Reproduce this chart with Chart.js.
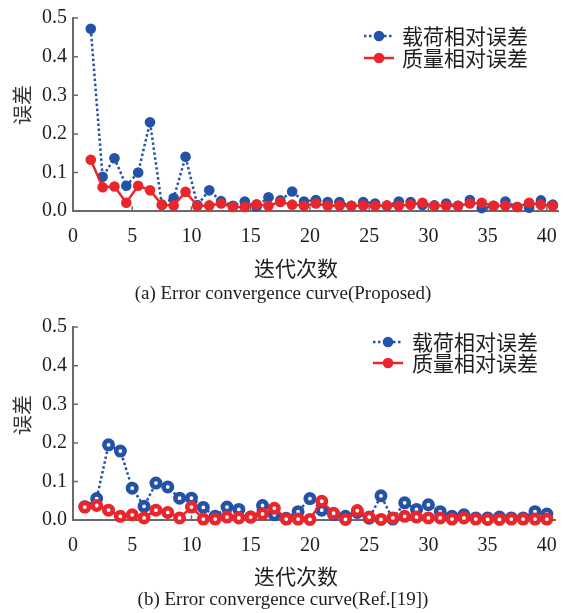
<!DOCTYPE html>
<html><head><meta charset="utf-8">
<script src="https://cdn.jsdelivr.net/npm/chart.js@4.4.1/dist/chart.umd.min.js"></script>
<style>
html,body{margin:0;padding:0;background:#fff;}
canvas{display:block;}
</style></head><body>
<canvas id="c1" width="571" height="307"></canvas>
<canvas id="c2" width="571" height="306"></canvas>
<script>
// ---------- data ----------
const iterations = [1,2,3,4,5,6,7,8,9,10,11,12,13,14,15,16,17,18,19,20,21,22,23,24,25,26,27,28,29,30,31,32,33,34,35,36,37,38,39,40];
const seriesNames = ['载荷相对误差', '质量相对误差'];
// (a) Proposed
const loadErrA = [0.472,0.089,0.137,0.066,0.100,0.230,0.017,0.034,0.141,0.016,0.054,0.026,0.014,0.025,0.012,0.036,0.028,0.051,0.025,0.029,0.024,0.024,0.014,0.024,0.020,0.014,0.025,0.024,0.016,0.015,0.020,0.014,0.029,0.008,0.014,0.025,0.011,0.009,0.028,0.017];
const massErrA = [0.133,0.062,0.064,0.022,0.066,0.054,0.017,0.015,0.050,0.014,0.015,0.020,0.011,0.011,0.018,0.014,0.024,0.017,0.014,0.020,0.014,0.015,0.014,0.015,0.014,0.015,0.014,0.017,0.022,0.014,0.014,0.014,0.020,0.022,0.014,0.014,0.011,0.022,0.017,0.014];
// (b) Ref.[19]
const loadErrB = [0.035,0.056,0.195,0.179,0.083,0.036,0.096,0.086,0.057,0.057,0.033,0.010,0.034,0.028,0.008,0.038,0.014,0.005,0.022,0.056,0.026,0.015,0.010,0.020,0.005,0.063,0.003,0.045,0.028,0.040,0.022,0.010,0.014,0.006,0.006,0.008,0.006,0.006,0.022,0.016];
const massErrB = [0.034,0.038,0.026,0.010,0.014,0.006,0.026,0.020,0.006,0.034,0.003,0.003,0.008,0.006,0.008,0.016,0.031,0.003,0.003,0.002,0.049,0.018,0.002,0.025,0.008,0.002,0.006,0.010,0.008,0.006,0.006,0.003,0.006,0.003,0.002,0.002,0.003,0.003,0.003,0.003];
const xTickValues = [0,5,10,15,20,25,30,35,40];
const yTickValues = [0,0.1,0.2,0.3,0.4,0.5];
const xTitle = '迭代次数';
const yTitle = '误差';
const captions = ['(a) Error convergence curve(Proposed)', '(b) Error convergence curve(Ref.[19])'];

// ---------- styling ----------
const BLUE = '#2452a6';
const RED = '#e8262b';
const AXIS = '#6a6a6a';
const TXT = '#1e1e1e';
const SERIF = "'Liberation Serif', 'Times New Roman', serif";
const CJK = "'Noto Sans CJK SC', 'Noto Sans CJK JP', sans-serif";

const inwardTicks = {
  id: 'inwardTicks',
  beforeDatasetsDraw(chart) {
    const {ctx, chartArea: a, scales: {x, y}} = chart;
    ctx.save();
    ctx.strokeStyle = AXIS; ctx.lineWidth = 1.5;
    ctx.beginPath();
    x.ticks.forEach(t => { const px = x.getPixelForValue(t.value); ctx.moveTo(px, a.bottom); ctx.lineTo(px, a.bottom - 5); });
    y.ticks.forEach(t => { const py = y.getPixelForValue(t.value); ctx.moveTo(a.left, py); ctx.lineTo(a.left + 5, py); });
    ctx.stroke();
    ctx.restore();
  }
};

// axis titles placed like the reference (x title sits left of the plot centre)
const axisTitles = {
  id: 'axisTitles',
  afterDraw(chart, args, o) {
    const ctx = chart.ctx;
    ctx.save();
    ctx.fillStyle = TXT; ctx.textAlign = 'center'; ctx.textBaseline = 'middle';
    ctx.font = o.xFont;
    ctx.fillText(o.xText, o.xx, o.xy);
    ctx.fillStyle = '#333';
    ctx.font = o.yFont;
    ctx.translate(o.yx, o.yy); ctx.rotate(-Math.PI / 2);
    ctx.fillText(o.yText, 0, 0);
    ctx.restore();
  }
};

const cornerLegend = {
  id: 'cornerLegend',
  afterDatasetsDraw(chart, args, o) {
    const ctx = chart.ctx;
    ctx.save();
    o.order.forEach((di, k) => {
      const ds = chart.data.datasets[di];
      const yy = o.y + k * o.gap;
      ctx.strokeStyle = ds.borderColor; ctx.lineWidth = ds.borderWidth;
      ctx.setLineDash(ds.borderDash || []);
      ctx.beginPath(); ctx.moveTo(o.x, yy); ctx.lineTo(o.x + o.len, yy); ctx.stroke();
      ctx.setLineDash([]);
      ctx.fillStyle = ds.pointBorderColor;
      ctx.beginPath(); ctx.arc(o.x + o.len / 2, yy, o.r, 0, Math.PI * 2); ctx.fill();
      ctx.fillStyle = TXT; ctx.font = o.font; ctx.textAlign = 'left'; ctx.textBaseline = 'middle';
      ctx.fillText(ds.label, o.x + o.len + o.textGap, yy);
    });
    ctx.restore();
  }
};

function makeChart(id, load, mass, xShift, xMax, cfg) {
  const ringed = cfg.ringed;
  const mk = (vals) => iterations.map((it, i) => ({x: it + xShift, y: vals[i]}));
  return new Chart(document.getElementById(id), {
    type: 'line',
    data: {
      datasets: [
        {label: seriesNames[0], data: mk(load), borderColor: BLUE, borderWidth: 2.5, borderDash: [2.5, 2.5],
         pointBackgroundColor: ringed ? '#ffffff' : BLUE, pointBorderColor: BLUE,
         pointRadius: ringed ? 4.2 : 5.3, pointBorderWidth: ringed ? 4.6 : 0, pointHoverRadius: 5,
         order: 2, clip: false, tension: 0},
        {label: seriesNames[1], data: mk(mass), borderColor: RED, borderWidth: 2.5,
         pointBackgroundColor: ringed ? '#ffffff' : RED, pointBorderColor: RED,
         pointRadius: ringed ? 4.2 : 5.3, pointBorderWidth: ringed ? 4.6 : 0, pointHoverRadius: 5,
         order: 1, clip: false, tension: 0}
      ]
    },
    options: {
      responsive: false, animation: false, devicePixelRatio: 1,
      layout: {padding: {top: cfg.padTop, right: 5, left: 0, bottom: 2}},
      scales: {
        x: {
          type: 'linear', min: 0, max: xMax,
          afterBuildTicks: s => { s.ticks = xTickValues.map(v => ({value: v})); },
          afterFit: s => { s.height = cfg.xHeight; },
          grid: {display: true, drawOnChartArea: false, drawTicks: false},
          border: {display: true, color: AXIS, width: 2},
          ticks: {padding: 14, color: TXT, font: {family: SERIF, size: 20}, maxRotation: 0, autoSkip: false}
        },
        y: {
          type: 'linear', min: 0, max: 0.5,
          afterBuildTicks: s => { s.ticks = yTickValues.map(v => ({value: v})); },
          afterFit: s => { s.width = 73; },
          grid: {display: true, drawOnChartArea: false, drawTicks: false},
          border: {display: true, color: AXIS, width: 2},
          ticks: {padding: 6, color: TXT, font: {family: SERIF, size: 20}, callback: v => Number(v).toFixed(1)}
        }
      },
      plugins: {
        legend: {display: false},
        tooltip: {enabled: false},
        title: {display: true, position: 'bottom', text: cfg.caption, color: TXT,
                font: {family: SERIF, size: 19, weight: 'normal'}, padding: {top: 0, bottom: 0}},
        cornerLegend: cfg.legend,
        axisTitles: cfg.titles
      }
    },
    plugins: [inwardTicks, cornerLegend, axisTitles]
  });
}

makeChart('c1', loadErrA, massErrA, 0.5, 41, {
  ringed: false, padTop: 16, xHeight: 71, caption: captions[0],
  legend: {order: [0, 1], x: 364, y: 36, gap: 22, len: 30, r: 5.3, textGap: 8, font: "21px " + CJK},
  titles: {xText: xTitle, xx: 296, xy: 268, xFont: "21px " + CJK, yText: yTitle, yx: 22, yy: 105, yFont: "20px " + CJK}
});
makeChart('c2', loadErrB, massErrB, 0, 40.7, {
  ringed: true, padTop: 20, xHeight: 68, caption: captions[1],
  legend: {order: [0, 1], x: 373, y: 35, gap: 21, len: 30, r: 5.3, textGap: 9, font: "21px " + CJK},
  titles: {xText: xTitle, xx: 296, xy: 269, xFont: "21px " + CJK, yText: yTitle, yx: 22, yy: 108, yFont: "20px " + CJK}
});
</script>
</body></html>
